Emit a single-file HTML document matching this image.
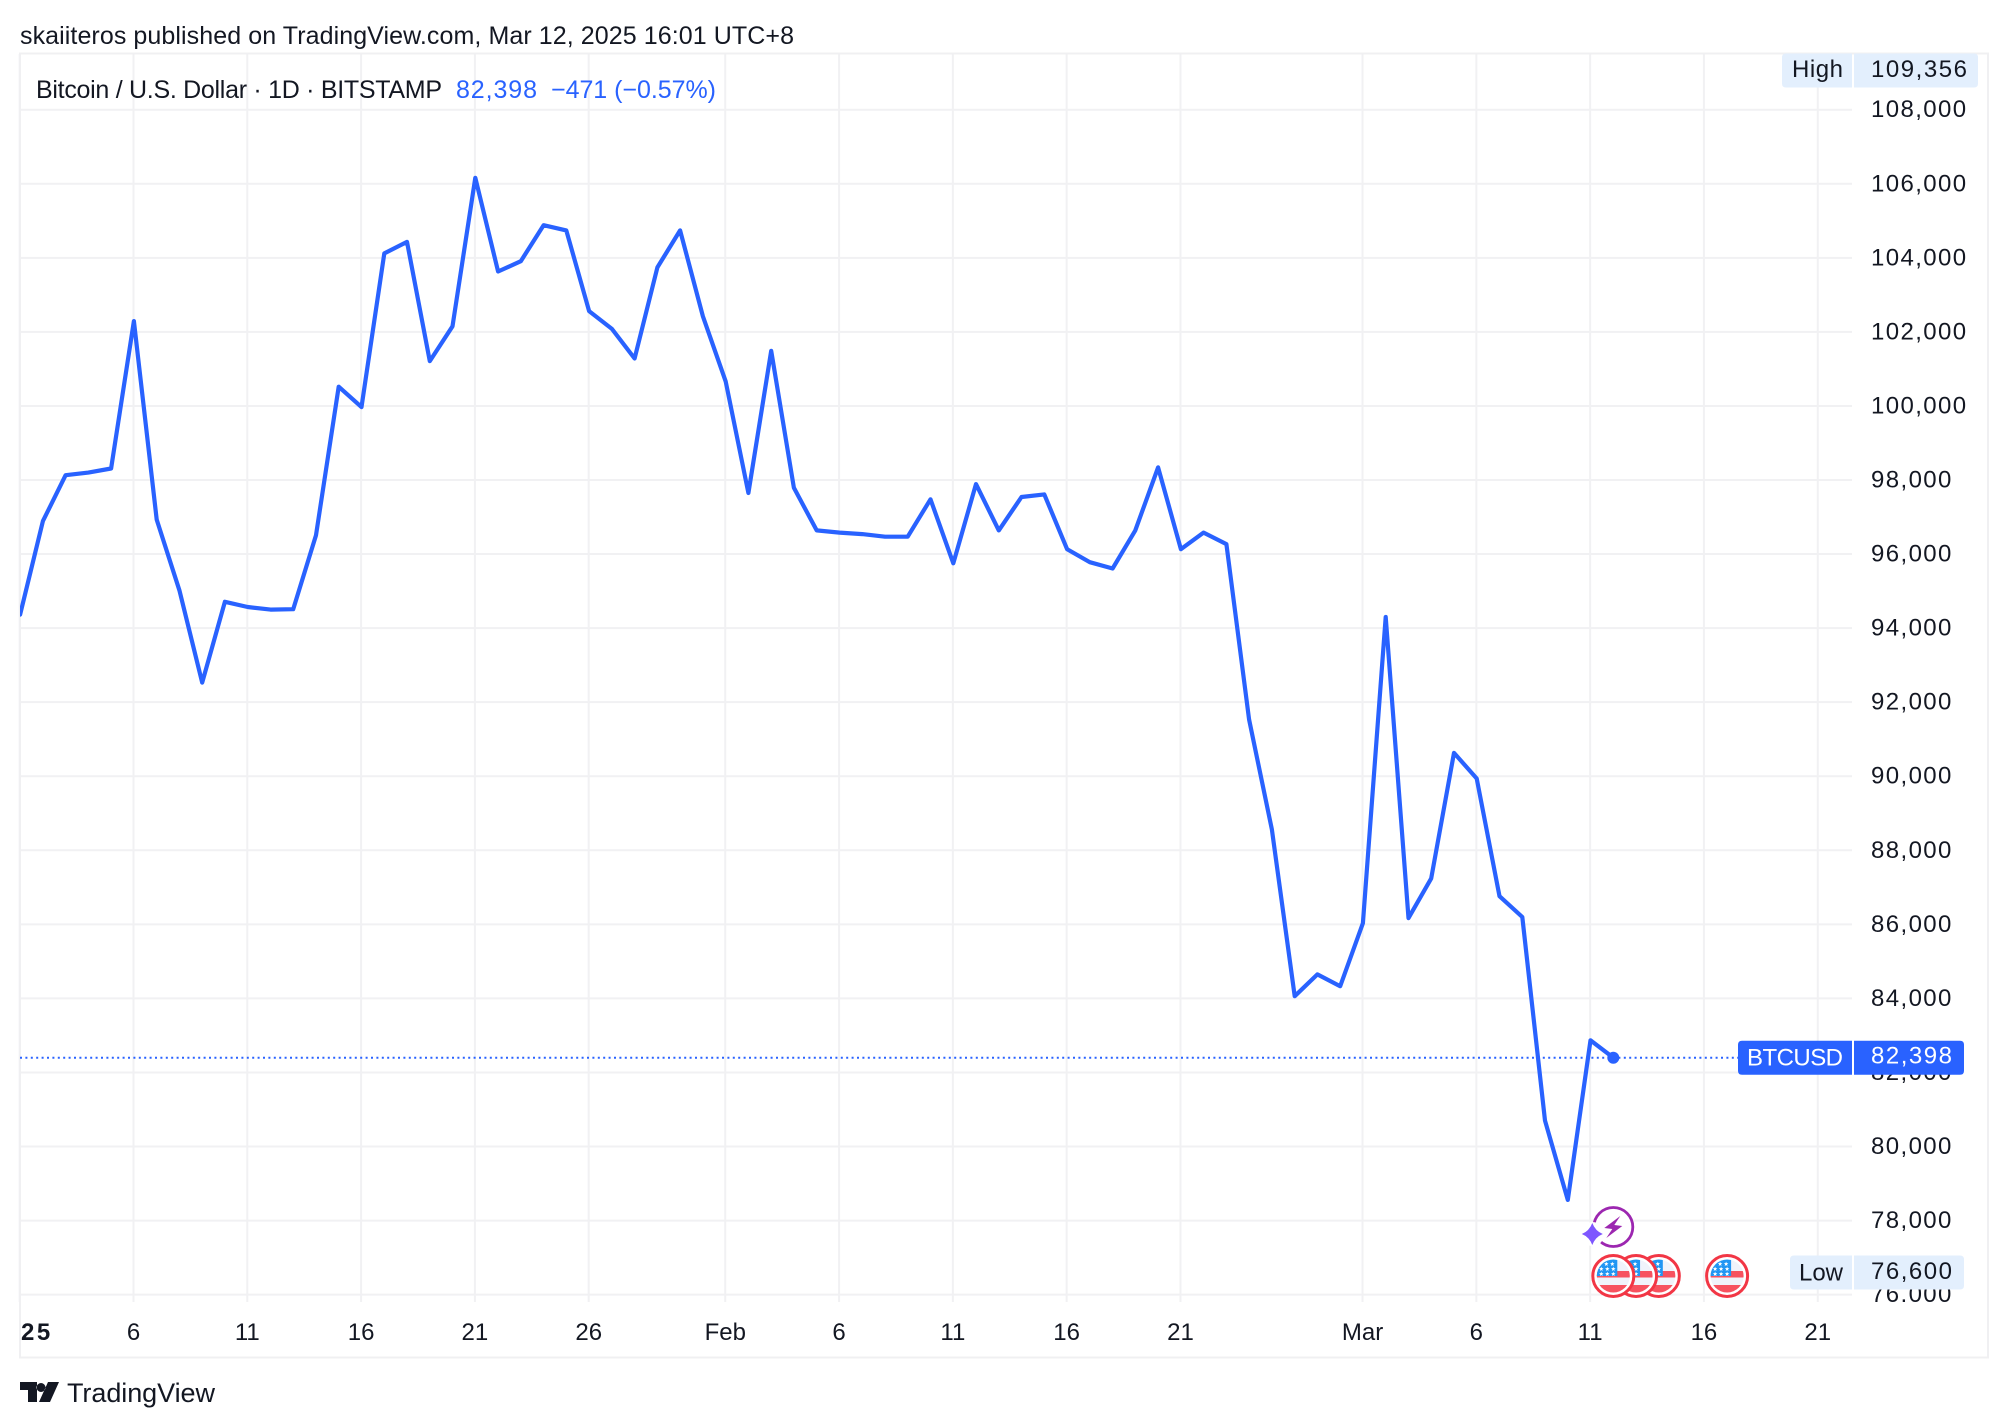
<!DOCTYPE html>
<html lang="en">
<head>
<meta charset="utf-8">
<title>Bitcoin / U.S. Dollar chart</title>
<style>
html,body{margin:0;padding:0;background:#fff;width:2008px;height:1428px;overflow:hidden}
svg{display:block}
text{font-family:"Liberation Sans",sans-serif;fill:#131722}
</style>
</head>
<body>
<svg id="chart" xmlns="http://www.w3.org/2000/svg" width="2008" height="1428" viewBox="0 0 2008 1428">
  <defs>
    <clipPath id="plot-clip"><rect x="20" y="53" width="1832" height="1249"/></clipPath>
    <clipPath id="axis-clip"><rect x="1854" y="53" width="130" height="1249"/></clipPath>
    <clipPath id="flag-clip"><circle cx="0" cy="0" r="16.500"/></clipPath>
  </defs>
  <text x="20" y="44" font-size="25" textLength="774" lengthAdjust="spacing">skaiiteros published on TradingView.com, Mar 12, 2025 16:01 UTC+8</text>
  <g id="grid"></g>
  <rect x="20" y="53.5" width="1968" height="1304" fill="none" stroke="#f0f0f2" stroke-width="2"/>
  <line id="lastLine" x1="20" x2="1738" stroke="#2962ff" stroke-width="2" stroke-dasharray="2 3.4"/>
  <g clip-path="url(#plot-clip)"><path id="series" fill="none" stroke="#2962ff" stroke-width="4.2" stroke-linejoin="round" stroke-linecap="round"/></g>
  <circle id="lastDot" r="6" fill="#2962ff"/>
  <text x="36" y="98" font-size="25" textLength="406" lengthAdjust="spacing">Bitcoin / U.S. Dollar · 1D · BITSTAMP</text>
  <text x="456" y="98" font-size="25" style="fill:#2962ff" textLength="81" lengthAdjust="spacing">82,398</text>
  <text x="551" y="98" font-size="25" style="fill:#2962ff" textLength="165" lengthAdjust="spacing">−471 (−0.57%)</text>
  <g id="yaxis" clip-path="url(#axis-clip)"></g>
  <g id="xaxis"></g>
  <g id="badges"></g>
  <g id="events"></g>
  <g>
    <path fill="#131722" d="M20 1382H37V1402H28V1390H20ZM41 1392a4.500 4.500 0 1 0 .01 -9a4.500 4.500 0 0 0 -.01 9ZM48 1382H59L50 1402H39Z"/>
    <text x="67" y="1402" font-size="27" textLength="148" lengthAdjust="spacing">TradingView</text>
  </g>
</svg>
<script>
// ---- chart data ----
const dates = ["Jan 1","Jan 2","Jan 3","Jan 4","Jan 5","Jan 6","Jan 7","Jan 8","Jan 9","Jan 10","Jan 11","Jan 12","Jan 13","Jan 14","Jan 15","Jan 16","Jan 17","Jan 18","Jan 19","Jan 20","Jan 21","Jan 22","Jan 23","Jan 24","Jan 25","Jan 26","Jan 27","Jan 28","Jan 29","Jan 30","Jan 31","Feb 1","Feb 2","Feb 3","Feb 4","Feb 5","Feb 6","Feb 7","Feb 8","Feb 9","Feb 10","Feb 11","Feb 12","Feb 13","Feb 14","Feb 15","Feb 16","Feb 17","Feb 18","Feb 19","Feb 20","Feb 21","Feb 22","Feb 23","Feb 24","Feb 25","Feb 26","Feb 27","Feb 28","Mar 1","Mar 2","Mar 3","Mar 4","Mar 5","Mar 6","Mar 7","Mar 8","Mar 9","Mar 10","Mar 11","Mar 12"];
const closes = [94364,96890,98130,98200,98310,102290,96930,95020,92530,94710,94570,94500,94510,96510,100520,99970,104120,104430,101210,102150,106160,103630,103910,104880,104740,102560,102080,101280,103740,104740,102420,100660,97650,101490,97790,96640,96580,96540,96470,96470,97480,95750,97890,96640,97540,97610,96130,95780,95610,96640,98340,96130,96580,96270,91530,88560,84060,84650,84330,86030,94300,86170,87240,90630,89940,86760,86200,80700,78560,82869,82398];
const yTicks = [108000,106000,104000,102000,100000,98000,96000,94000,92000,90000,88000,86000,84000,82000,80000,78000,76000];
const xTickDates = ["Jan 1","Jan 6","Jan 11","Jan 16","Jan 21","Jan 26","Feb 1","Feb 6","Feb 11","Feb 16","Feb 21","Mar 1","Mar 6","Mar 11","Mar 16","Mar 21"];
const xTickLabels = ["25","6","11","16","21","26","Feb","6","11","16","21","Mar","6","11","16","21"];
const highValue = 109356;
const lowValue = 76600;
const lastValue = 82398;
const usEventDates = ["Mar 17","Mar 14","Mar 13","Mar 12"];

// ---- axis functions ----
const NS = "http://www.w3.org/2000/svg";
const X0 = 19.7, DAY = 22.76, Y0 = 109.7, YPER = 74.06 / 2000, SERIES_SHIFT = 0.4;
function xOfIndex(i){ return X0 + i * DAY; }
function yOf(v){ return Y0 + (108000 - v) * YPER; }
function idx(d){
  const p = dates.indexOf(d);
  if (p >= 0) return p;
  const parts = d.split(" ");
  const base = dates.indexOf("Mar 1");
  return base + Number(parts[1]) - 1;
}
function fmt(v){ return v.toLocaleString("en-US"); }

// ---- grid ----
const grid = document.getElementById("grid");
yTicks.forEach(function(v){
  const l = document.createElementNS(NS,"line");
  
  
  l.setAttribute("x1",20); l.setAttribute("x2",1852);
  l.setAttribute("y1",yOf(v)); l.setAttribute("y2",yOf(v));
  l.setAttribute("stroke","#f1f1f3"); l.setAttribute("stroke-width",2);
  grid.appendChild(l);
});
xTickDates.forEach(function(d){
  const l = document.createElementNS(NS,"line");
  
  
  const x = xOfIndex(idx(d));
  l.setAttribute("x1",x); l.setAttribute("x2",x);
  l.setAttribute("y1",54); l.setAttribute("y2",1302);
  l.setAttribute("stroke","#f1f1f3"); l.setAttribute("stroke-width",2);
  grid.appendChild(l);
});

// ---- series ----
document.getElementById("series").setAttribute("d", closes.map(function(v,i){
  return (i ? "L" : "M") + (xOfIndex(i) + SERIES_SHIFT).toFixed(1) + " " + yOf(v).toFixed(1);
}).join(""));
const lastX = xOfIndex(closes.length - 1) + SERIES_SHIFT, lastY = yOf(lastValue);
const lastLine = document.getElementById("lastLine");
lastLine.setAttribute("y1", lastY); lastLine.setAttribute("y2", lastY);
const lastDot = document.getElementById("lastDot");
lastDot.setAttribute("cx", lastX); lastDot.setAttribute("cy", lastY);

// ---- y axis ----
const yaxis = document.getElementById("yaxis");
yTicks.forEach(function(v){
  const t = document.createElementNS(NS,"text");
  
  
  t.setAttribute("x",1871); t.setAttribute("y",yOf(v)+7.500);
  t.setAttribute("font-size",24); t.setAttribute("letter-spacing",1.4);
  t.textContent = fmt(v);
  yaxis.appendChild(t);
});

// ---- x axis ----
const xaxis = document.getElementById("xaxis");
xTickDates.forEach(function(d,i){
  const t = document.createElementNS(NS,"text");
  
  
  const first = i === 0;
  t.setAttribute("x", first ? 21 : xOfIndex(idx(d)));
  t.setAttribute("y",1340);
  t.setAttribute("font-size",24);
  t.setAttribute("text-anchor", first ? "start" : "middle");
  if (first) {
    t.setAttribute("font-weight","700");
    t.setAttribute("letter-spacing","2.500");
  }
  t.textContent = xTickLabels[i];
  xaxis.appendChild(t);
});

// ---- price badges ----
const badges = document.getElementById("badges");
function addRect(name, parent, x, y, w, h, fill, corners){
  const p = document.createElementNS(NS,"path");
  
  
  const r = 4, L = corners === "L";
  p.setAttribute("d", L
    ? "M"+(x+w)+" "+y+"V"+(y+h)+"H"+(x+r)+"q"+(-r)+" 0 "+(-r)+" "+(-r)+"V"+(y+r)+"q0 "+(-r)+" "+r+" "+(-r)+"Z"
    : "M"+x+" "+y+"H"+(x+w-r)+"q"+r+" 0 "+r+" "+r+"V"+(y+h-r)+"q0 "+r+" "+(-r)+" "+r+"H"+x+"Z");
  p.setAttribute("fill", fill);
  parent.appendChild(p);
}
function addLabel(name, parent, x, y, text, fill, width){
  const t = document.createElementNS(NS,"text");
  
  
  t.setAttribute("x",x); t.setAttribute("y",y);
  t.setAttribute("font-size",24);
  t.setAttribute("textLength",width);
  t.setAttribute("lengthAdjust","spacing");
  t.style.fill = fill;
  t.textContent = text;
  parent.appendChild(t);
}
const H = 34;
const highC = Math.max(yOf(highValue), 71);
addRect("high-label-background", badges, 1782, highC-17.5, 70, H, "#e3effd", "L");
addRect("high-value-background", badges, 1854, highC-17.5, 124, H, "#e3effd", "R");
addLabel("high-label", badges, 1792, highC+6, "High", "#131722", 51);
addLabel("high-value", badges, 1871, highC+6, fmt(highValue), "#131722", 96);
const lowC = yOf(lowValue);
addRect("low-label-background", badges, 1790, lowC-17, 62, H, "#e3effd", "L");
addRect("low-value-background", badges, 1854, lowC-17, 110, H, "#e3effd", "R");
addLabel("low-label", badges, 1799, lowC+8, "Low", "#131722", 44);
addLabel("low-value", badges, 1871, lowC+6.500, fmt(lowValue), "#131722", 81);
addRect("symbol-label-background", badges, 1738, lastY-17, 114, H, "#2962ff", "L");
addRect("last-price-background", badges, 1854, lastY-17, 110, H, "#2962ff", "R");
addLabel("symbol-label", badges, 1747, lastY+8, "BTCUSD", "#ffffff", 96);
addLabel("last-price-value", badges, 1871, lastY+6, fmt(lastValue), "#ffffff", 81);

// ---- event markers ----
const events = document.getElementById("events");
function starPath(cx, cy, r){
  let d = "";
  for (let k = 0; k < 10; k++){
    const a = -Math.PI/2 + k*Math.PI/5, rr = k % 2 ? r*0.42 : r;
    d += (k ? "L" : "M") + (cx + rr*Math.cos(a)).toFixed(2) + " " + (cy + rr*Math.sin(a)).toFixed(2);
  }
  return d + "Z";
}
usEventDates.forEach(function(d){
  const g = document.createElementNS(NS,"g");
  
  
  g.setAttribute("transform","translate("+(xOfIndex(idx(d)) + SERIES_SHIFT)+" 1276)");
  let html = '<circle r="20.500" fill="#fff" stroke="#f23645" stroke-width="3"/>' +
    '<g clip-path="url(#flag-clip)"><rect x="-17" y="-17" width="34" height="34" fill="#f0f3fa"/>' +
    '<rect x="-17" y="-5" width="34" height="6.500" fill="#f7525f"/>' +
    '<rect x="-17" y="9" width="34" height="9" fill="#f7525f"/>' +
    '<rect x="-17" y="-17" width="21" height="17" fill="#2196f3"/>';
  [[-7,-12],[-1,-12],[-12,-7],[-6,-7],[0,-7],[-12,-2],[-6,-2],[0,-2]].forEach(function(s){
    html += '<path fill="#fff" d="' + starPath(s[0], s[1], 2.4) + '"/>';
  });
  html += '</g>';
  g.innerHTML = html;
  events.appendChild(g);
});
const bolt = document.createElementNS(NS,"g");


bolt.setAttribute("transform","translate("+lastX+" 1227)");
bolt.innerHTML = '<circle r="19.500" fill="#fff" stroke="#9c27b0" stroke-width="2.800"/>' +
  '<path fill="#9c27b0" d="M7 -11 L-9 1 L-1 2 L-7 11 L9 -1 L1 -2 L7 -11 Z"/>' +
  '<circle cx="-21" cy="7" r="12" fill="#fff"/>' +
  '<path fill="#7e57ff" d="M-21 -4 Q-18 4 -10.500 7 Q-18 10 -21 18 Q-24 10 -31.500 7 Q-24 4 -21 -4Z"/>';
events.appendChild(bolt);
</script>
</body>
</html>
